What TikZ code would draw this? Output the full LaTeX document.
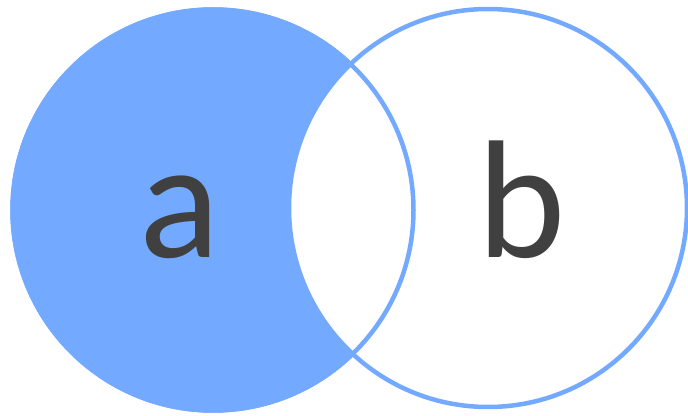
\documentclass[tikz,border=0pt]{standalone}
\usepackage{fontspec}
\setmainfont{Carlito}
\usepackage{tikz}

\definecolor{setblue}{RGB}{115,170,255}
\definecolor{letter}{RGB}{64,64,64}

\begin{document}
\begin{tikzpicture}[x=1pt,y=1pt,
    ring/.style={draw=setblue,line width=4.5pt,circle,inner sep=0pt},
    letterlabel/.style={text=letter,anchor=base,inner sep=0pt,font=\fontsize{168}{168}\selectfont}]

    \useasboundingbox (0,0) rectangle (688,415);

    \node[ring,fill=setblue,minimum size=401pt] (A) at (213,205) {};
    \node[ring,fill=white,minimum size=398pt] (B) at (488,207) {};
    \node[ring,minimum size=401pt] (Aline) at (A) {};

    \node[letterlabel] (la) at (180,157) {a};
    \node[letterlabel] (lb) at (522,157) {b};

\end{tikzpicture}
\end{document}
